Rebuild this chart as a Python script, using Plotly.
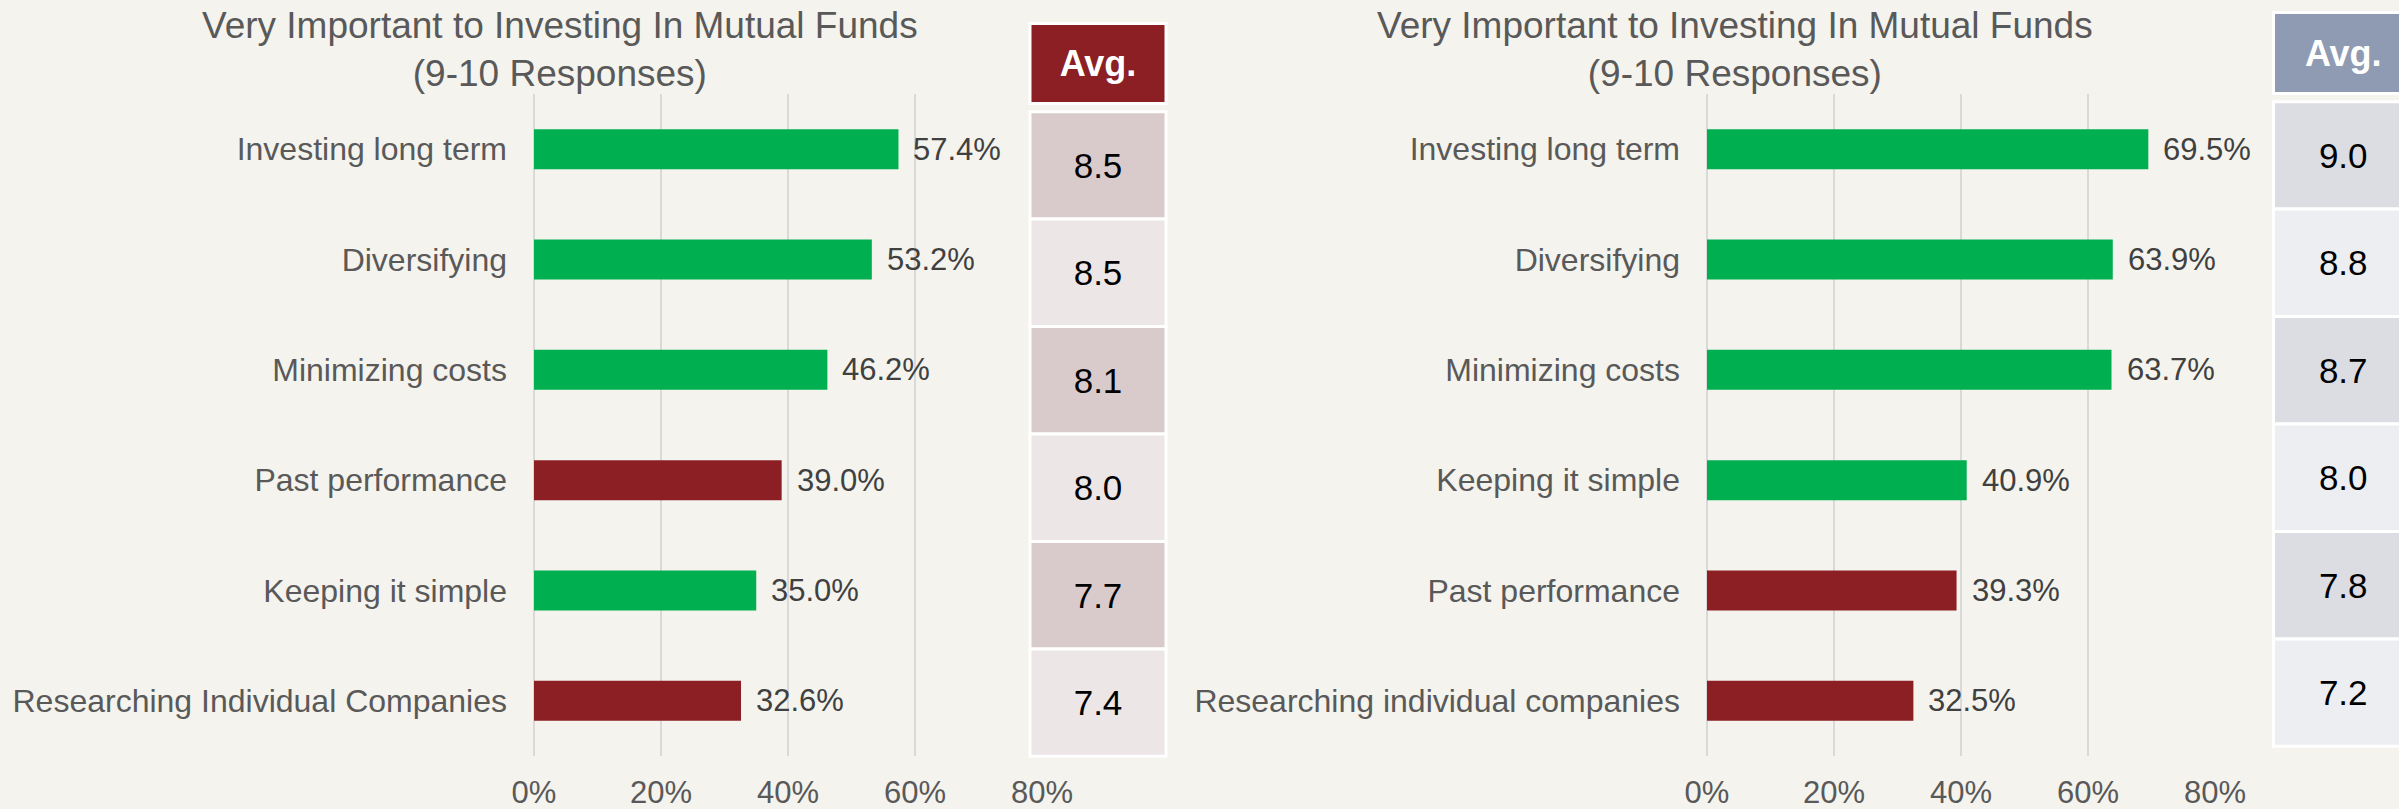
import plotly.graph_objects as go

W, H = 2399, 809

# ---------------- data ----------------
left_categories = ["Investing long term", "Diversifying", "Minimizing costs",
                   "Past performance", "Keeping it simple", "Researching Individual Companies"]
left_values = [57.4, 53.2, 46.2, 39.0, 35.0, 32.6]
left_highlight = [False, False, False, True, False, True]
left_avg = [8.5, 8.5, 8.1, 8.0, 7.7, 7.4]

right_categories = ["Investing long term", "Diversifying", "Minimizing costs",
                    "Keeping it simple", "Past performance", "Researching individual companies"]
right_values = [69.5, 63.9, 63.7, 40.9, 39.3, 32.5]
right_highlight = [False, False, False, False, True, True]
right_avg = [9.0, 8.8, 8.7, 8.0, 7.8, 7.2]

x_ticks = [0, 20, 40, 60, 80]
x_tick_labels = ["0%", "20%", "40%", "60%", "80%"]
title_text = "Very Important to Investing In Mutual Funds<br>(9-10 Responses)"
avg_header = "Avg."

# ---------------- styles ----------------
BG = "#F4F3ED"
GREEN = "#00AF50"
RED = "#8B1F24"
GRID = "#D9D9D9"
LABEL = "#595959"
VALUE = "#404040"
FONT = "Liberation Sans, Arial, sans-serif"

LEFT_HEAD = "#8B1F24"
LEFT_ROWS = ["#D9CBCB", "#ECE6E6"]
RIGHT_HEAD = "#8F9BB2"
RIGHT_ROWS = ["#DCDDE2", "#EDEEF1"]


def px_x(a, b):
    return [a / W, min(b / W, 1.0)]


def px_y(top, bottom):
    return [1 - bottom / H, 1 - top / H]


fig = go.Figure()

# main bars
fig.add_trace(go.Bar(
    x=left_values, y=left_categories, orientation="h", width=0.362,
    marker=dict(color=[RED if h else GREEN for h in left_highlight], line=dict(width=0)),
    xaxis="x", yaxis="y", hoverinfo="skip", showlegend=False))
fig.add_trace(go.Bar(
    x=right_values, y=right_categories, orientation="h", width=0.362,
    marker=dict(color=[RED if h else GREEN for h in right_highlight], line=dict(width=0)),
    xaxis="x2", yaxis="y2", hoverinfo="skip", showlegend=False))


# tables (as full-width bars)
def table(cats, avgs, head_color, row_colors, xa_rows, ya_rows, xa_head, ya_head):
    fig.add_trace(go.Bar(
        x=[1] * len(cats), y=cats, orientation="h", width=1,
        marker=dict(color=[row_colors[i % 2] for i in range(len(cats))],
                    line=dict(color="white", width=3)),
        text=[f"{v:.1f}" for v in avgs], textposition="inside",
        insidetextanchor="middle", textangle=0, constraintext="none",
        textfont=dict(family=FONT, size=35, color="black"),
        xaxis=xa_rows, yaxis=ya_rows, hoverinfo="skip", showlegend=False))
    fig.add_trace(go.Bar(
        x=[1], y=[avg_header], orientation="h", width=1,
        marker=dict(color=head_color, line=dict(color="white", width=3)),
        text=[f"<b>{avg_header}</b>"], textposition="inside",
        insidetextanchor="middle", textangle=0, constraintext="none",
        textfont=dict(family=FONT, size=36, color="white"),
        xaxis=xa_head, yaxis=ya_head, hoverinfo="skip", showlegend=False))


table(left_categories, left_avg, LEFT_HEAD, LEFT_ROWS, "x3", "y3", "x4", "y4")
table(right_categories, right_avg, RIGHT_HEAD, RIGHT_ROWS, "x5", "y5", "x6", "y6")

plot_y = px_y(94, 756)

axis_common = dict(range=[0, 80], tickvals=x_ticks, ticktext=x_tick_labels, showgrid=True,
                   gridcolor=GRID, gridwidth=2, zeroline=True, zerolinecolor=GRID,
                   zerolinewidth=2, showline=False, ticks="", ticklabelstandoff=15,
                   automargin=False,
                   tickfont=dict(family=FONT, size=31, color=LABEL), fixedrange=True)
yaxis_common = dict(type="category", autorange="reversed", showgrid=False, zeroline=False,
                    showline=False, ticks="", ticklabelstandoff=26, automargin=False,
                    tickfont=dict(family=FONT, size=32, color=LABEL), fixedrange=True)
hidden = dict(showgrid=False, zeroline=False, showline=False, showticklabels=False,
              ticks="", fixedrange=True, automargin=False)

fig.update_layout(
    width=W, height=H, autosize=False, showlegend=False,
    margin=dict(l=0, r=0, t=0, b=0, pad=0, autoexpand=False),
    paper_bgcolor=BG, plot_bgcolor="rgba(0,0,0,0)",
    font=dict(family=FONT, color=LABEL),
    barmode="overlay",
    xaxis=dict(domain=px_x(534, 1042), anchor="y", **axis_common),
    yaxis=dict(domain=plot_y, anchor="x", **yaxis_common),
    xaxis2=dict(domain=px_x(1707, 2215), anchor="y2", **axis_common),
    yaxis2=dict(domain=plot_y, anchor="x2", **yaxis_common),
    # left table
    xaxis3=dict(domain=px_x(1027, 1169), anchor="y3", range=[-0.022, 1.022], **hidden),
    yaxis3=dict(domain=px_y(109.5, 758.5), anchor="x3", type="category",
                range=[5.52, -0.52], **hidden),
    xaxis4=dict(domain=px_x(1027, 1169), anchor="y4", range=[-0.022, 1.022], **hidden),
    yaxis4=dict(domain=px_y(21, 106), anchor="x4", type="category",
                range=[0.53, -0.53], **hidden),
    # right table
    xaxis5=dict(domain=px_x(2271, 2399), anchor="y5", range=[-0.018, 0.9], **hidden),
    yaxis5=dict(domain=px_y(99.5, 748.5), anchor="x5", type="category",
                range=[5.52, -0.52], **hidden),
    xaxis6=dict(domain=px_x(2271, 2399), anchor="y6", range=[-0.018, 0.9], **hidden),
    yaxis6=dict(domain=px_y(10, 96), anchor="x6", type="category",
                range=[0.53, -0.53], **hidden),
)

annotations = []
for cats, vals, xr, yr in [(left_categories, left_values, "x", "y"),
                           (right_categories, right_values, "x2", "y2")]:
    for c, v in zip(cats, vals):
        annotations.append(dict(x=v, y=c, xref=xr, yref=yr, text=f"{v:.1f}%",
                                xanchor="left", yanchor="middle", xshift=13,
                                showarrow=False,
                                font=dict(family=FONT, size=31, color=VALUE)))
for cx in [560, 1735]:
    annotations.append(dict(x=cx / W, y=1 - 50 / H, xref="paper", yref="paper",
                            text=title_text, showarrow=False, xanchor="center",
                            yanchor="middle", align="center",
                            font=dict(family=FONT, size=37, color=LABEL)))
fig.update_layout(annotations=annotations)

fig.write_html("out.html", include_plotlyjs=True,
               config={"displayModeBar": False, "staticPlot": True, "responsive": False},
               post_script="document.documentElement.style.margin='0';document.body.style.margin='0';document.body.style.padding='0';document.documentElement.style.overflow='hidden';document.body.style.overflow='hidden';document.body.style.background='" + BG + "';")
